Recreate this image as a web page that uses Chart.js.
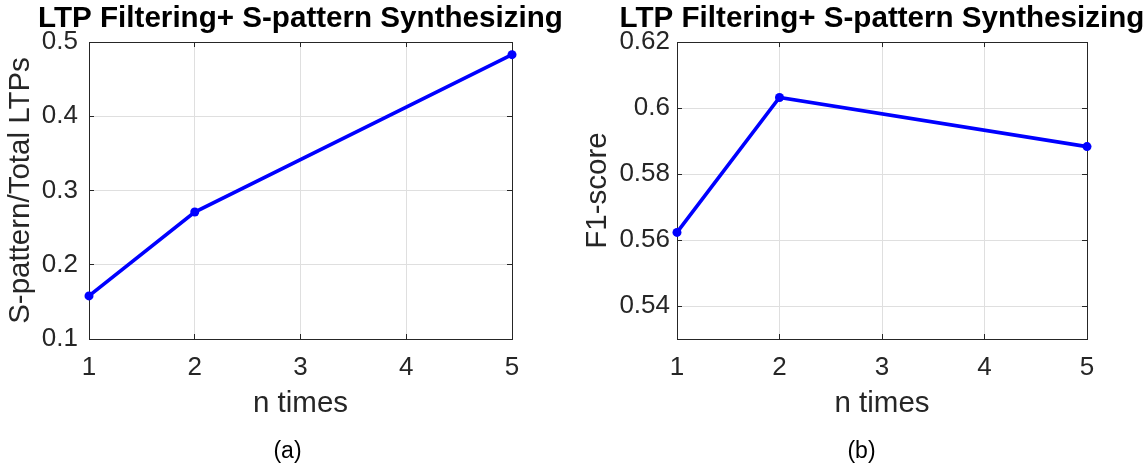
<!DOCTYPE html>
<html><head><meta charset="utf-8">
<script src="https://cdn.jsdelivr.net/npm/chart.js@4.4.1/dist/chart.umd.min.js"></script>
<style>
html,body{margin:0;padding:0;background:#fff;overflow:hidden;}
#wrap{position:relative;width:1146px;height:463px;overflow:hidden;background:#fff;}
canvas{position:absolute;top:0;}
.cap{position:absolute;width:100px;text-align:center;font:23px/28px "Liberation Sans",Arial,Helvetica,sans-serif;color:#000;top:436px;}
</style></head><body>
<div id="wrap">
<canvas id="chartA" width="601" height="463" style="left:0px"></canvas>
<canvas id="chartB" width="644" height="463" style="left:560px"></canvas>
<div class="cap" style="left:237.5px">(a)</div>
<div class="cap" style="left:811.5px">(b)</div>
</div>
<script>
// ---- data ----
const nTimes = [1, 2, 5];
const sPatternRatio = [0.158, 0.271, 0.483];
const f1Score = [0.5623, 0.6032, 0.5883];
const xTicks = [1, 2, 3, 4, 5];
const yTicksA = [0.1, 0.2, 0.3, 0.4, 0.5];
const yTicksB = [0.54, 0.56, 0.58, 0.6, 0.62];
const titleText = 'LTP Filtering+ S-pattern Synthesizing';
const xLabel = 'n times';
const yLabelA = 'S-pattern/Total LTPs';
const yLabelB = 'F1-score';

Chart.defaults.font.family = '"Liberation Sans", Arial, Helvetica, sans-serif';

const AX = '#262626';
const GRID = '#dfdfdf';
const TICKLEN = -5;

function gridColor(lo, hi) {
  return c => (c.tick && (c.tick.value === lo || c.tick.value === hi)) ? 'rgba(0,0,0,0)' : GRID;
}
function setTicks(arr) {
  return s => { s.ticks = arr.map(v => ({ value: v })); };
}

function makeChart(id, ys, yMin, yMax, yTicks, yLabel, cfg) {
  return new Chart(document.getElementById(id), {
    type: 'line',
    data: {
      datasets: [{
        data: nTimes.map((x, i) => ({ x: x, y: ys[i] })),
        xAxisID: 'x', yAxisID: 'y',
        borderColor: '#0000ff', backgroundColor: '#0000ff',
        borderWidth: 3.6, pointRadius: 4.5, pointHoverRadius: 4.5,
        pointBorderWidth: 0, tension: 0, clip: false
      }]
    },
    options: {
      responsive: false, animation: false, events: [],
      layout: { padding: { left: cfg.pad, right: cfg.pad, top: 0, bottom: 0 } },
      plugins: {
        legend: { display: false }, tooltip: { enabled: false },
        title: {
          display: true, text: titleText, color: '#000',
          font: { size: 29.6, weight: 'bold' },
          padding: { top: 1, bottom: 5.5 }
        }
      },
      scales: {
        x: {
          type: 'linear', axis: 'x', position: 'bottom', min: 1, max: 5,
          afterBuildTicks: setTicks(xTicks),
          afterFit: s => { s.height = 124; },
          grid: { color: gridColor(1, 5), tickColor: AX, drawTicks: true, tickLength: TICKLEN, lineWidth: 1 },
          border: { display: true, color: AX, width: 1 },
          ticks: { color: AX, font: { size: 26 }, padding: 18, maxRotation: 0, autoSkip: false },
          title: { display: true, text: xLabel, color: AX, font: { size: 29.5 }, padding: { top: 0, bottom: 41 } }
        },
        y: {
          type: 'linear', axis: 'y', position: 'left', min: yMin, max: yMax,
          afterBuildTicks: setTicks(yTicks),
          afterFit: s => { s.width = cfg.yWidth; },
          grid: { color: gridColor(yMin, yMax), tickColor: AX, drawTicks: true, tickLength: TICKLEN, lineWidth: 1 },
          border: { display: true, color: AX, width: 1 },
          ticks: { color: AX, font: { size: 26 }, padding: cfg.yTickPad, autoSkip: false,
                   callback: v => String(+Number(v).toFixed(2)) },
          title: { display: true, text: yLabel, color: AX, font: { size: 29.5 }, padding: { top: 3.4, bottom: 0 } }
        },
        x2: {
          type: 'linear', axis: 'x', position: 'top', min: 1, max: 5,
          afterBuildTicks: setTicks(xTicks),
          afterFit: s => { s.height = 0; },
          grid: { drawOnChartArea: false, drawTicks: true, tickLength: TICKLEN, tickColor: AX, lineWidth: 1 },
          border: { display: true, color: AX, width: 1 },
          ticks: { display: false }
        },
        y2: {
          type: 'linear', axis: 'y', position: 'right', min: yMin, max: yMax,
          afterBuildTicks: setTicks(yTicks),
          afterFit: s => { s.width = cfg.yWidth; },
          grid: { drawOnChartArea: false, drawTicks: true, tickLength: TICKLEN, tickColor: AX, lineWidth: 1 },
          border: { display: true, color: AX, width: 1 },
          ticks: { display: false }
        }
      }
    }
  });
}

makeChart('chartA', sPatternRatio, 0.1, 0.5, yTicksA, yLabelA,
  { pad: 0, yWidth: 89, yTickPad: 16 });
makeChart('chartB', f1Score, 0.53, 0.62, yTicksB, yLabelB,
  { pad: 17, yWidth: 100, yTickPad: 12 });
</script>
</body></html>
